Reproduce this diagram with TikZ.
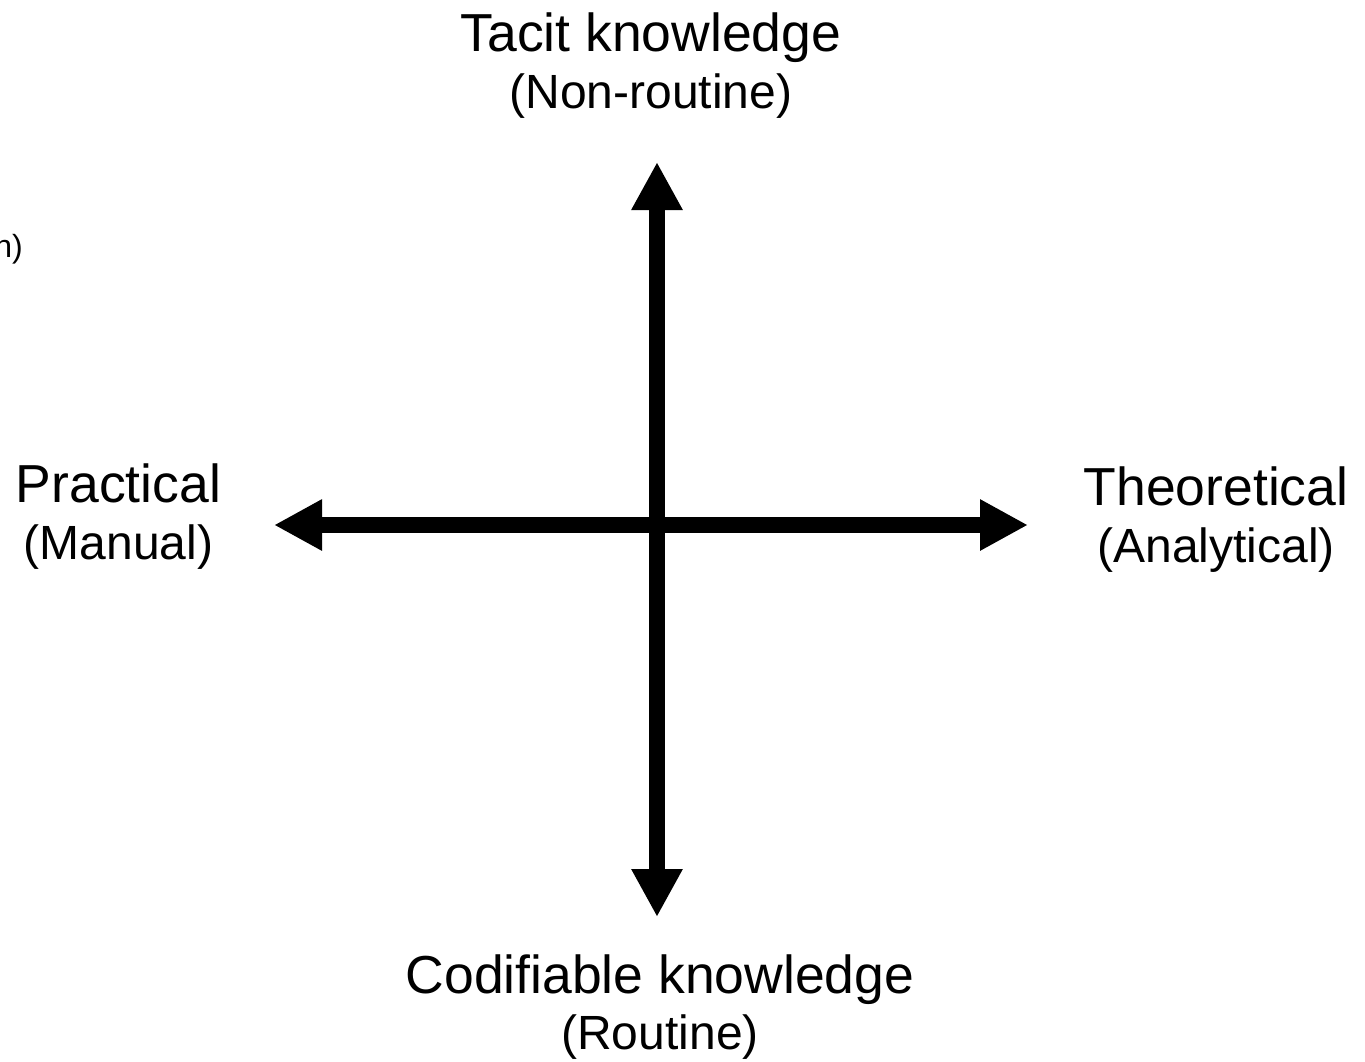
\documentclass[tikz,border=0pt]{standalone}
\usepackage{fontspec}
\setmainfont{Liberation Sans}
\usetikzlibrary{arrows.meta}
\begin{document}
\begin{tikzpicture}[x=1pt,y=-1pt,
  title/.style={anchor=base,inner sep=0pt,font=\fontsize{53.5}{60}\selectfont},
  subtitle/.style={anchor=base,inner sep=0pt,font=\fontsize{48}{54}\selectfont},
  axis/.style={line width=16pt,
    {Triangle[length=48pt,width=48pt]}-{Triangle[length=48pt,width=48pt]}}]
\useasboundingbox (0,0) rectangle (1365,1061);
% axis end points
\coordinate (ntop) at (657,162);
\coordinate (nbottom) at (657,917);
\coordinate (nleft) at (274,525);
\coordinate (nright) at (1028,525);
% axes
\draw[axis] (nbottom) -- (ntop);
\draw[axis] (nleft) -- (nright);
% labels
\node[title] (tacit) at (651,51) {Tacit knowledge};
\node[subtitle] (nonroutine) at (651,108) {(Non-routine)};
\node[title] (practical) at (118.5,502) {Practical};
\node[subtitle] (manual) at (118.5,559) {(Manual)};
\node[title] (theoretical) at (1216,505) {Theoretical};
\node[subtitle] (analytical) at (1216,562) {(Analytical)};
\node[title] (codifiable) at (660,993) {Codifiable knowledge};
\node[subtitle] (routine) at (660,1049) {(Routine)};
\node[anchor=base east,inner sep=0pt,font=\fontsize{32}{38}\selectfont] (cut) at (23,257) {n)};
\end{tikzpicture}
\end{document}
